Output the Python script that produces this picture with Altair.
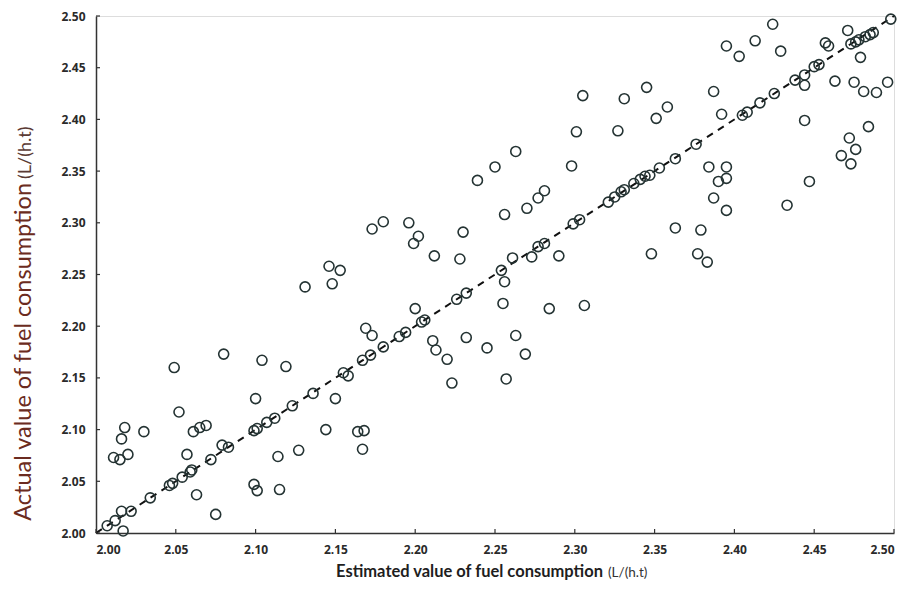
import altair as alt
import pandas as pd

# Estimated (x) and actual (y) fuel consumption, L/(h.t)
est = [2.007, 2.012, 2.017, 2.016, 2.022, 2.011, 2.015, 2.020, 2.016, 2.018,
       2.030, 2.034, 2.046, 2.048, 2.054, 2.059, 2.060, 2.057, 2.063, 2.052,
       2.049, 2.061, 2.065, 2.069, 2.072, 2.075, 2.080, 2.079, 2.083, 2.099,
       2.101, 2.107, 2.112, 2.100, 2.104, 2.099, 2.101, 2.114, 2.115, 2.119,
       2.123, 2.127, 2.131, 2.136, 2.144, 2.146, 2.148, 2.150, 2.153, 2.155,
       2.158, 2.164, 2.168, 2.167, 2.167, 2.172, 2.169, 2.173, 2.180, 2.173,
       2.180, 2.190, 2.194, 2.196, 2.202, 2.199, 2.200, 2.204, 2.206, 2.211,
       2.213, 2.212, 2.220, 2.223, 2.226, 2.230, 2.228, 2.232, 2.232, 2.245,
       2.239, 2.250, 2.263, 2.256, 2.254, 2.256, 2.255, 2.257, 2.261, 2.263,
       2.269, 2.270, 2.273, 2.277, 2.277, 2.281, 2.281, 2.284, 2.290, 2.298,
       2.299, 2.303, 2.301, 2.305, 2.306, 2.321, 2.325, 2.329, 2.331, 2.327,
       2.331, 2.337, 2.341, 2.344, 2.347, 2.345, 2.348, 2.351, 2.353, 2.358,
       2.363, 2.363, 2.376, 2.377, 2.379, 2.383, 2.384, 2.387, 2.387, 2.390,
       2.392, 2.395, 2.395, 2.395, 2.395, 2.403, 2.405, 2.408, 2.413, 2.416,
       2.424, 2.425, 2.429, 2.433, 2.438, 2.444, 2.444, 2.444, 2.447, 2.450,
       2.453, 2.457, 2.459, 2.463, 2.467, 2.471, 2.472, 2.473, 2.473, 2.476,
       2.476, 2.475, 2.478, 2.479, 2.481, 2.482, 2.484, 2.485, 2.487, 2.489,
       2.496, 2.498]
act = [2.007, 2.012, 2.002, 2.021, 2.021, 2.073, 2.071, 2.076, 2.091, 2.102,
       2.098, 2.034, 2.046, 2.048, 2.054, 2.059, 2.061, 2.076, 2.037, 2.117,
       2.160, 2.098, 2.102, 2.104, 2.071, 2.018, 2.173, 2.085, 2.083, 2.099,
       2.101, 2.107, 2.111, 2.130, 2.167, 2.047, 2.041, 2.074, 2.042, 2.161,
       2.123, 2.080, 2.238, 2.135, 2.100, 2.258, 2.241, 2.130, 2.254, 2.155,
       2.152, 2.098, 2.099, 2.081, 2.167, 2.172, 2.198, 2.191, 2.180, 2.294,
       2.301, 2.190, 2.194, 2.300, 2.287, 2.280, 2.217, 2.204, 2.206, 2.186,
       2.177, 2.268, 2.168, 2.145, 2.226, 2.291, 2.265, 2.232, 2.189, 2.179,
       2.341, 2.354, 2.369, 2.308, 2.254, 2.243, 2.222, 2.149, 2.266, 2.191,
       2.173, 2.314, 2.267, 2.277, 2.324, 2.280, 2.331, 2.217, 2.268, 2.355,
       2.299, 2.303, 2.388, 2.423, 2.220, 2.320, 2.325, 2.330, 2.332, 2.389,
       2.420, 2.338, 2.342, 2.345, 2.346, 2.431, 2.270, 2.401, 2.353, 2.412,
       2.362, 2.295, 2.376, 2.270, 2.293, 2.262, 2.354, 2.324, 2.427, 2.340,
       2.405, 2.354, 2.343, 2.312, 2.471, 2.461, 2.404, 2.407, 2.476, 2.416,
       2.492, 2.425, 2.466, 2.317, 2.438, 2.443, 2.433, 2.399, 2.340, 2.451,
       2.453, 2.474, 2.471, 2.437, 2.365, 2.486, 2.382, 2.357, 2.473, 2.475,
       2.371, 2.436, 2.477, 2.460, 2.427, 2.480, 2.393, 2.482, 2.484, 2.426,
       2.436, 2.497]

line_x = [2.0, 2.5]
line_y = [2.0, 2.5]
tick_values = [2.00, 2.05, 2.10, 2.15, 2.20, 2.25, 2.30, 2.35, 2.40, 2.45, 2.50]

x_title = ["Estimated value of fuel consumption"]
y_title = ["Actual value of fuel consumption"]
unit = ["(L/(h.t)"]

W, H = 798, 517
FONT = "Open Sans"
TFONT = "Lato"

axis_common = dict(
    values=tick_values, format=".2f", grid=False, ticks=False,
    domainColor="#333333", domainWidth=1.5,
    labelFont=FONT, labelFontSize=12, labelFontWeight="bold",
    labelColor="#2a2a2a", title=None,
)

xs = alt.Scale(domain=[2.0, 2.5], nice=False, zero=False)
ys = alt.Scale(domain=[2.0, 2.5], nice=False, zero=False)
xenc = alt.X("x:Q", scale=xs, axis=alt.Axis(labelPadding=11, **axis_common))
yenc = alt.Y("y:Q", scale=ys, axis=alt.Axis(labelPadding=11, **axis_common))

pts = pd.DataFrame({"x": est, "y": act})
points = alt.Chart(pts).mark_point(
    shape="circle", filled=False, size=100, strokeWidth=1.6, color="#243333", opacity=1
).encode(x=xenc, y=yenc)

line = alt.Chart(pd.DataFrame({"x": line_x, "y": line_y})).mark_line(
    color="#111111", strokeWidth=2, strokeDash=[7, 6]
).encode(x=xenc, y=yenc)

xt = alt.Chart(pd.DataFrame({"x": tick_values})).mark_rule(
    color="#333333", strokeWidth=1.2
).encode(x=xenc, y=alt.value(H), y2=alt.value(H - 4))

yt = alt.Chart(pd.DataFrame({"y": tick_values})).mark_rule(
    color="#333333", strokeWidth=1.2
).encode(y=yenc, x=alt.value(0), x2=alt.value(4))

xtitle = alt.Chart(pd.DataFrame({"t": x_title})).mark_text(
    font=TFONT, fontSize=16.5, fontWeight="bold", color="#1e1e1e",
    align="right", baseline="alphabetic"
).encode(x=alt.value(507), y=alt.value(561), text="t:N")

xunit = alt.Chart(pd.DataFrame({"t": unit})).mark_text(
    font=TFONT, fontSize=13.5, color="#333333",
    align="left", baseline="alphabetic"
).encode(x=alt.value(512), y=alt.value(561), text="t:N")

ytitle = alt.Chart(pd.DataFrame({"t": y_title})).mark_text(
    font=TFONT, fontSize=23.5, color="#6b2b20", angle=270,
    align="right", baseline="alphabetic"
).encode(x=alt.value(-65), y=alt.value(167), text="t:N")

yunit = alt.Chart(pd.DataFrame({"t": unit})).mark_text(
    font=TFONT, fontSize=18, color="#5a3a33", angle=270,
    align="left", baseline="alphabetic"
).encode(x=alt.value(-65), y=alt.value(163), text="t:N")

chart = alt.layer(line, points, xt, yt, xtitle, xunit, ytitle, yunit).properties(
    width=W, height=H,
    autosize=alt.AutoSizeParams(type="none"),
    padding={"left": 88, "top": 8, "right": 10, "bottom": 48},
).configure_view(stroke=None).configure(background="white")

chart.save("out.html", embed_options={"renderer": "svg", "actions": False})
